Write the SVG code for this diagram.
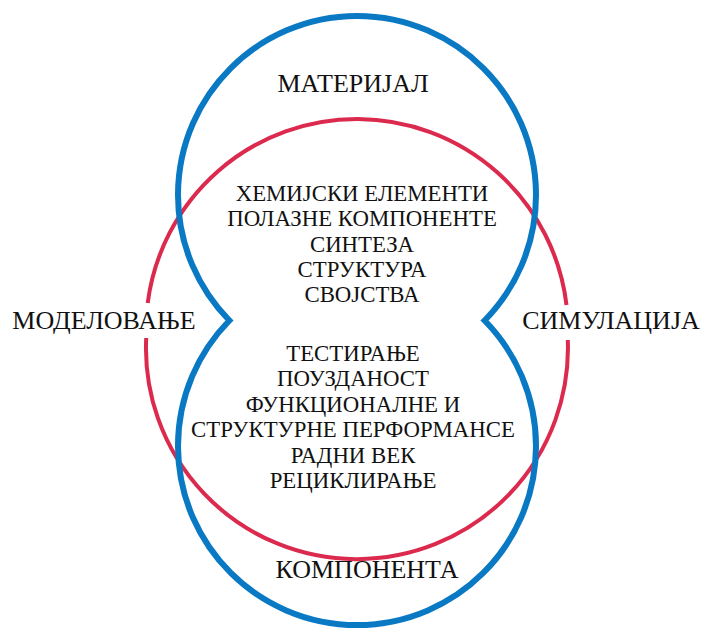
<svg xmlns="http://www.w3.org/2000/svg" width="704" height="629" viewBox="0 0 704 629">
<style>
text{font-family:'Liberation Serif','DejaVu Serif',serif;fill:#111;text-anchor:middle}
.big{font-size:26px}
.small{font-size:22.8px}
.blue{fill:none;stroke:#0A79C4;stroke-width:6}
.red{fill:none;stroke:#DC2A4E;stroke-width:4}
</style>
<rect width="704" height="629" fill="#fff"/>
<g id="connectors">
<path id="red-circle" class="red" d="M147.7 303 A211 211 0 0 1 566.5 305 M567.8 340 A211 211 0 1 1 146.2 338"/>
<path id="blue-outline" class="blue" d="M229.4 320.5 A179 179 0 1 1 484.6 320.5 A179 179 0 1 1 229.4 320.5 Z"/>
</g>
<g id="materijal"><text class="big" x="353" y="92">МАТЕРИЈАЛ</text></g>
<g id="komponenta"><text class="big" x="367" y="578">КОМПОНЕНТА</text></g>
<g id="modelovanje"><text class="big" x="104" y="329">МОДЕЛОВАЊЕ</text></g>
<g id="simulacija"><text class="big" x="611" y="329">СИМУЛАЦИЈА</text></g>
<g id="material-list">
<text class="small" x="362" y="201">ХЕМИЈСКИ ЕЛЕМЕНТИ</text>
<text class="small" x="362" y="226">ПОЛАЗНЕ КОМПОНЕНТЕ</text>
<text class="small" x="362" y="252">СИНТЕЗА</text>
<text class="small" x="362" y="277">СТРУКТУРА</text>
<text class="small" x="362" y="302">СВОЈСТВА</text>
</g>
<g id="component-list">
<text class="small" x="353" y="361">ТЕСТИРАЊЕ</text>
<text class="small" x="353" y="386">ПОУЗДАНОСТ</text>
<text class="small" x="353" y="412">ФУНКЦИОНАЛНЕ И</text>
<text class="small" x="353" y="437">СТРУКТУРНЕ ПЕРФОРМАНСЕ</text>
<text class="small" x="353" y="463">РАДНИ ВЕК</text>
<text class="small" x="353" y="488">РЕЦИКЛИРАЊЕ</text>
</g>
</svg>
